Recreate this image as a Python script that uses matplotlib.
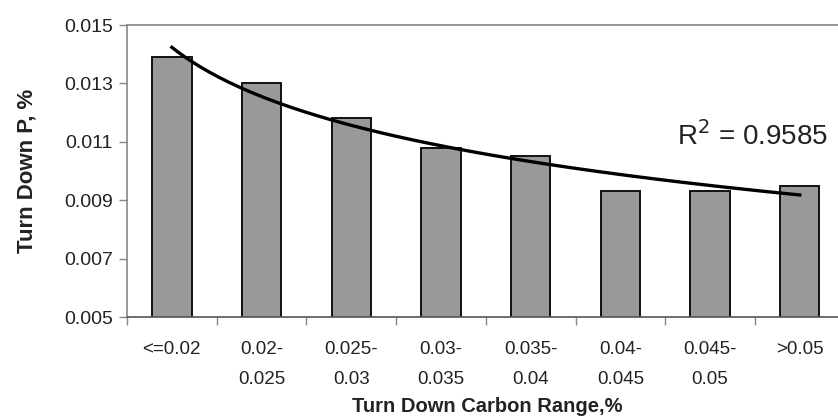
import numpy as np
import matplotlib
matplotlib.use("Agg")
import matplotlib.pyplot as plt

plt.rcParams['font.family'] = ['Liberation Sans', 'DejaVu Sans']

categories = ["<=0.02", "0.02-\n0.025", "0.025-\n0.03", "0.03-\n0.035",
              "0.035-\n0.04", "0.04-\n0.045", "0.045-\n0.05", ">0.05"]
turn_down_p = [0.0139, 0.0130, 0.0118, 0.0108, 0.0105, 0.0093, 0.0093, 0.0095]
y_ticks = [0.005, 0.007, 0.009, 0.011, 0.013, 0.015]
r2_label = "R$^2$ = 0.9585"

fig = plt.figure(figsize=(8.38, 4.17), dpi=100)
ax = fig.add_axes([127 / 838, 100 / 417, 717.6 / 838, 292 / 417])

x = np.arange(len(categories))
ax.bar(x, turn_down_p, width=0.44, color="#999999", edgecolor="#111111",
       linewidth=1.4, zorder=2)

# logarithmic trend line fitted to the bar values
lx = np.log(x + 1)
b, a = np.polyfit(lx, turn_down_p, 1)
xs = np.linspace(0, len(categories) - 1, 200)
ax.plot(xs, a + b * np.log(xs + 1), color="black", linewidth=2.4, zorder=3)

ax.text(7.31, 0.01088, r2_label, fontsize=20, ha="right", va="baseline",
        color="#222222", zorder=4)

ax.set_xlim(-0.5, len(categories) - 0.5)
ax.set_ylim(0.005, 0.015)
ax.set_yticks(y_ticks)
ax.set_yticklabels([f"{v:.3f}" for v in y_ticks], fontsize=14, color="#222222")
ax.set_xticks(np.arange(len(categories) + 1) - 0.5, minor=False)
ax.set_xticklabels([])
ax.set_xticks(x, minor=True)
ax.set_xticklabels(categories, minor=True, fontsize=13.5, color="#222222",
                   linespacing=2.05)
ax.tick_params(axis="x", which="minor", length=0, pad=17)
ax.tick_params(axis="x", which="major", length=6, color="#888888", width=1)
ax.tick_params(axis="y", length=6, color="#888888", width=1, pad=4)

for side in ("left", "top"):
    ax.spines[side].set_color("#888888")
    ax.spines[side].set_linewidth(1.2)
ax.spines["bottom"].set_color("#555555")
ax.spines["bottom"].set_linewidth(1.2)
ax.spines["right"].set_visible(False)

ax.set_ylabel("Turn Down P, %", fontsize=16, fontweight="bold", color="#222222")
ax.yaxis.set_label_coords(-100 / 717.6, (317 - 171) / 292)
ax.set_xlabel("Turn Down Carbon Range,%", fontsize=14.5, fontweight="bold",
              color="#222222")
ax.xaxis.set_label_coords(360 / 717.6, -(407 - 317) / 292)
ax.xaxis.label.set_va("center")
ax.yaxis.label.set_va("center")

fig.savefig("out.png", dpi=100)
